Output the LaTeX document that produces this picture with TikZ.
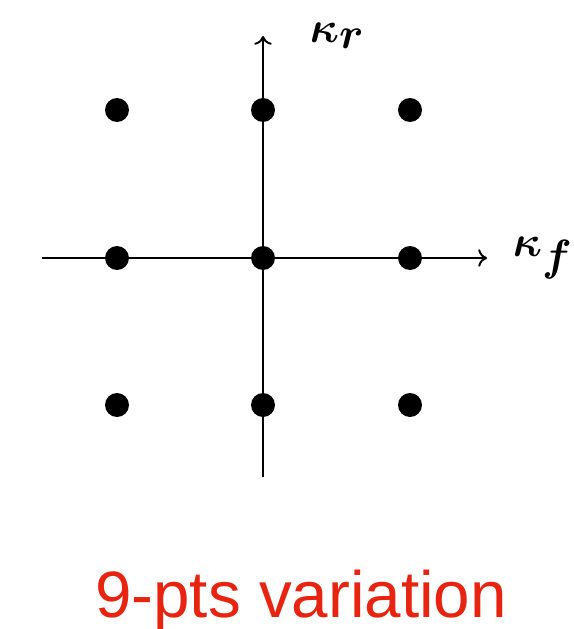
\documentclass[tikz,border=0pt]{standalone}
\usepackage{amsmath,bm}
\usepackage{fontspec}
\setmainfont{Liberation Sans}
\usetikzlibrary{arrows.meta}
\definecolor{varred}{HTML}{E8230F}

\begin{document}
\begin{tikzpicture}[x=0.02cm, y=-0.02cm, line width=1.1pt,
  dot/.style={circle, fill=black, inner sep=0pt, minimum size=0.48cm},
  axlabel/.style={anchor=west, inner sep=0pt, font=\fontsize{33}{36}\selectfont\boldmath}]
  \useasboundingbox (0,0) rectangle (574,629);

  % --- axes ---
  \coordinate (xl) at (42,258);
  \coordinate (xr) at (487,258);
  \coordinate (yb) at (263,477);
  \coordinate (yt) at (263,36);
  \draw[-{To[length=5pt,width=10pt]}] (xl) -- (xr);
  \draw[-{To[length=5pt,width=10pt]}] (yb) -- (yt);
  \node[axlabel] (kf) at (512,258) {$\kappa_f$};
  \node[axlabel] (kr) at (309,36) {$\kappa_r$};

  % --- 3x3 grid of sample points ---
  \foreach \i/\x in {1/117, 2/263, 3/410} {
    \foreach \j/\y in {1/110, 2/258, 3/405} {
      \node[dot] (p\i\j) at (\x,\y) {};
    }
  }

  % caption
  \node[anchor=base, inner sep=0pt, text=varred, font=\fontsize{37.3}{40}\selectfont] (cap) at (301,617) {9-pts variation};
\end{tikzpicture}
\end{document}
